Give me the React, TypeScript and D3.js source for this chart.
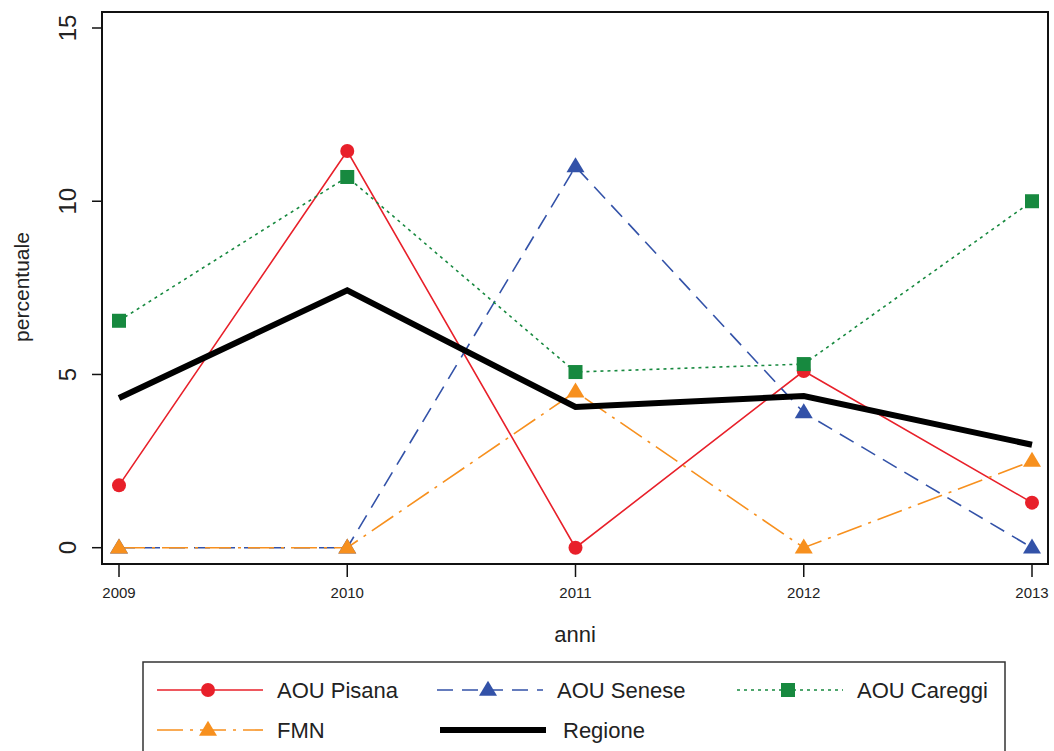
import React from "react";
import * as d3 from "d3";

const years = [2009, 2010, 2011, 2012, 2013];
const pisana = [1.8, 11.45, 0, 5.1, 1.3];
const senese = [0, 0, 11.0, 3.9, 0];
const careggi = [6.55, 10.7, 5.07, 5.3, 10.0];
const fmn = [0, 0, 4.5, 0, 2.5];
const regione = [4.32, 7.43, 4.06, 4.38, 2.97];
const yTicks = [0, 5, 10, 15];
const xTickLabels = ["2009", "2010", "2011", "2012", "2013"];

type Series = {
  name: string;
  values: number[];
  color: string;
  width: number;
  dash: string;
  marker: "circle" | "triangle" | "square" | "none";
};

const series: Series[] = [
  { name: "AOU Pisana", values: pisana, color: "#e8202a", width: 1.6, dash: "", marker: "circle" },
  { name: "AOU Senese", values: senese, color: "#3352a8", width: 1.6, dash: "16 9", marker: "triangle" },
  { name: "AOU Careggi", values: careggi, color: "#17893f", width: 1.6, dash: "3 4", marker: "square" },
  { name: "FMN", values: fmn, color: "#f7901e", width: 1.6, dash: "26 7 3 7", marker: "triangle" },
  { name: "Regione", values: regione, color: "#000000", width: 6, dash: "", marker: "none" },
];

const FONT = "'Liberation Sans', Arial, sans-serif";

function Marker({ type, x, y, color }: { type: string; x: number; y: number; color: string }) {
  if (type === "circle") return <circle cx={x} cy={y} r={7} fill={color} />;
  if (type === "square") return <rect x={x - 7} y={y - 7} width={14} height={14} fill={color} />;
  if (type === "triangle") {
    const h = 15, w = 9;
    return <path d={`M${x},${y - h * 0.62}L${x + w},${y + h * 0.38}L${x - w},${y + h * 0.38}Z`} fill={color} />;
  }
  return null;
}

export default function App() {
  const W = 1054, H = 751;
  const left = 102, right = 1048, top = 12, bottom = 564;
  const x = d3.scaleLinear().domain([2009, 2013]).range([119, 1032]);
  const y = d3.scaleLinear().domain([0, 15]).range([547.7, 28]);
  const line = d3.line<number>().x((_, i) => x(years[i])).y((d) => y(d));

  const legendItems = [
    { s: series[0], lx: 157, row: 0 },
    { s: series[1], lx: 437, row: 0 },
    { s: series[2], lx: 737, row: 0 },
    { s: series[3], lx: 157, row: 1 },
    { s: series[4], lx: 440, row: 1 },
  ];
  const rowY = [690, 730];

  return (
    <svg width={W} height={H} style={{ position: "absolute", left: 0, top: 0, background: "#fff" }} fontFamily={FONT}>
      <rect x={0} y={0} width={W} height={H} fill="#fff" />
      {series.map((s) => (
        <path key={s.name} d={line(s.values) || ""} fill="none" stroke={s.color} strokeWidth={s.width}
          strokeDasharray={s.dash || undefined} strokeLinejoin="miter" />
      ))}
      {series.map((s) =>
        s.values.map((v, i) => <Marker key={s.name + i} type={s.marker} x={x(years[i])} y={y(v)} color={s.color} />)
      )}
      <rect x={left} y={top} width={right - left} height={bottom - top} fill="none" stroke="#111" strokeWidth={2} />
      {yTicks.map((t) => (
        <g key={t}>
          <line x1={left - 10} x2={left} y1={y(t)} y2={y(t)} stroke="#111" strokeWidth={1.5} />
          <text transform={`translate(76,${y(t)}) rotate(-90)`} textAnchor="middle" fontSize={24} fill="#222">{t}</text>
        </g>
      ))}
      {years.map((yr, i) => (
        <g key={yr}>
          <line x1={x(yr)} x2={x(yr)} y1={bottom} y2={bottom + 13} stroke="#111" strokeWidth={1.5} />
          <text x={x(yr)} y={598} textAnchor="middle" fontSize={15} fill="#222">{xTickLabels[i]}</text>
        </g>
      ))}
      <text x={575} y={642} textAnchor="middle" fontSize={22} fill="#222">anni</text>
      <text transform={`translate(29,287) rotate(-90)`} textAnchor="middle" fontSize={21} fill="#222">percentuale</text>
      <rect x={143} y={662} width={862} height={120} fill="none" stroke="#333" strokeWidth={1.5} />
      {legendItems.map(({ s, lx, row }) => {
        const ly = rowY[row];
        return (
          <g key={s.name}>
            <line x1={lx} x2={lx + 106} y1={ly} y2={ly} stroke={s.color} strokeWidth={s.width}
              strokeDasharray={s.dash || undefined} />
            <Marker type={s.marker} x={lx + 51} y={ly} color={s.color} />
            <text x={lx + (s.name === "Regione" ? 123 : 120)} y={ly + 8} fontSize={22} fill="#222">{s.name}</text>
          </g>
        );
      })}
    </svg>
  );
}
